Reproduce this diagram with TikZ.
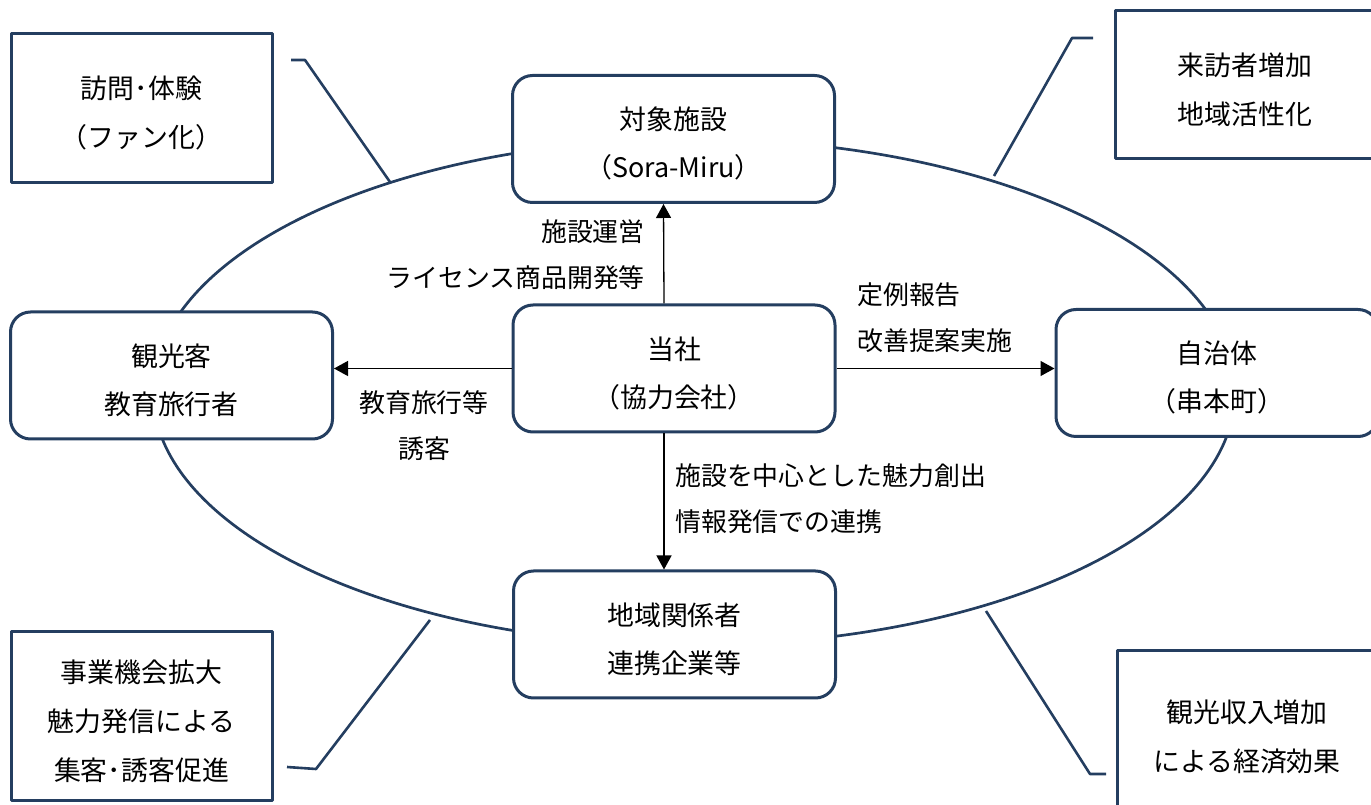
\documentclass[tikz,border=0pt]{standalone}
\usepackage{fontspec}
\setmainfont{Noto Sans CJK JP}
\usetikzlibrary{arrows.meta}
\definecolor{navy}{RGB}{36,62,96}
\newcommand{\boxstrut}{\rule{0pt}{32bp}}
\tikzset{
  roundbox/.style={draw=navy,line width=3bp,fill=white,rounded corners=20bp,minimum width=322bp,minimum height=127bp,align=center,inner sep=0pt,font=\fontsize{27}{48}\selectfont},
  squarebox/.style={draw=navy,line width=3bp,fill=white,align=center,inner sep=0pt,font=\fontsize{27}{49}\selectfont},
  tag/.style={inner sep=0pt,font=\fontsize{26}{46}\selectfont},
  ringline/.style={draw=navy,line width=2.7bp},
  callout/.style={draw=navy,line width=2.6bp},
}
\begin{document}
\begin{tikzpicture}[>={Triangle[length=14bp,width=15bp]},line join=bevel]
\useasboundingbox (0bp,0bp) rectangle (1371bp,805bp);
\clip (0bp,0bp) rectangle (1371bp,805bp);
%%
\draw [ringline] (694bp,413bp) ellipse [x radius=541bp,y radius=253bp];
%
\node (node_facility) at (673.5bp,666bp) [roundbox] {\boxstrut 対象施設\\（Sora-Miru）};
  \node (node_company) at (674bp,436.5bp) [roundbox] {\boxstrut 当社\\（協力会社）};
  \node (node_visitor) at (171.5bp,429.5bp) [roundbox] {\boxstrut 観光客\\教育旅行者};
  \node (node_town) at (1217bp,432bp) [roundbox] {\boxstrut 自治体\\（串本町）};
  \node (node_local) at (674.5bp,170.5bp) [roundbox] {\boxstrut 地域関係者\\連携企業等};
%
\node (node_fan) at (141.5bp,696.5bp) [squarebox,minimum width=261bp,minimum height=149bp] {\boxstrut 訪問･体験\\（ファン化）};
  \node (node_growth) at (1245bp,720bp) [squarebox,minimum width=260bp,minimum height=148bp] {\boxstrut 来訪者増加\\地域活性化};
  \node (node_business) at (141.5bp,88.5bp) [squarebox,minimum width=261bp,minimum height=169bp] {\boxstrut 事業機会拡大\\魅力発信による\\集客･誘客促進};
  \node (node_economy) at (1247bp,73bp) [squarebox,minimum width=260bp,minimum height=162bp] {\boxstrut 観光収入増加\\による経済効果};
%
\node (node_ops) at (645bp,550bp) [tag,anchor=east,align=right] {施設運営\\ライセンス商品開発等};
  \node (node_report) at (857bp,487bp) [tag,anchor=west,align=left] {定例報告\\改善提案実施};
  \node (node_tour) at (424bp,379.5bp) [tag,align=center] {教育旅行等\\誘客};
  \node (node_promo) at (675bp,306bp) [tag,anchor=west,align=left] {施設を中心とした魅力創出\\情報発信での連携};
%
\draw [black,line width=1.3bp,->] ([xshift=-10bp]node_company.north) -- ([xshift=-10bp]node_facility.south);
  \draw [black,line width=1.3bp,->] (node_company.west) -- (node_company.west -| node_visitor.east);
  \draw [black,line width=1.3bp,->] (node_company.east) -- (node_company.east -| node_town.west);
  \draw [black,line width=1.3bp,->] ([xshift=-10bp]node_company.south) -- ([xshift=-10bp]node_company.south |- node_local.north);
%
\coordinate (fan_a) at (291bp,745bp);
  \coordinate (fan_b) at (305bp,745bp);
  \coordinate (fan_c) at (390bp,623bp);
  \coordinate (growth_a) at (1093bp,767bp);
  \coordinate (growth_b) at (1072bp,767bp);
  \coordinate (growth_c) at (994bp,629bp);
  \coordinate (business_a) at (287bp,38bp);
  \coordinate (business_b) at (316bp,36bp);
  \coordinate (business_c) at (430bp,185bp);
  \coordinate (economy_a) at (1106bp,31bp);
  \coordinate (economy_b) at (1090bp,31bp);
  \coordinate (economy_c) at (986bp,194bp);
  \draw [callout] (fan_a) -- (fan_b) -- (fan_c);
  \draw [callout] (growth_a) -- (growth_b) -- (growth_c);
  \draw [callout] (business_a) -- (business_b) -- (business_c);
  \draw [callout] (economy_a) -- (economy_b) -- (economy_c);
%
\end{tikzpicture}
\end{document}
